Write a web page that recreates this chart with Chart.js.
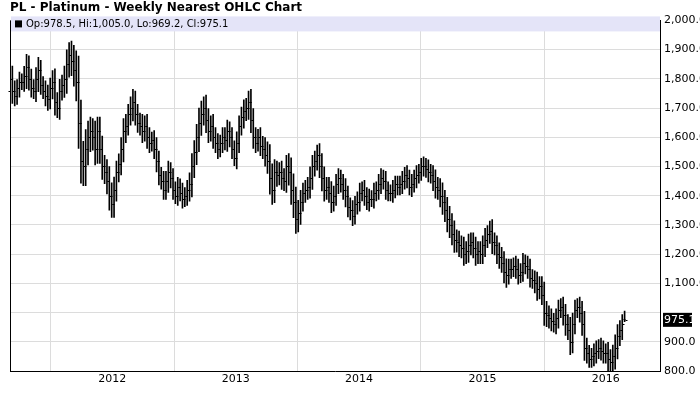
<!DOCTYPE html>
<html><head><meta charset="utf-8">
<script src="https://cdn.jsdelivr.net/npm/chart.js@4"></script>
<style>html,body{margin:0;padding:0;background:#fff}#w{width:700px;height:411px}</style>
</head><body><div id="w"><canvas id="c"></canvas></div>
<script>
const firstWeek = '2011-03-04';
const closes = [
1800,1760,1740,1770, 1790,1790,1810,1840,1800, 1770,1760,1800,1830, 1780,1760,1740,1730, 1770,1790,1720,1700,1760, 1780,1800,1850,1880, 1860,1830,1790,1650,1520, 1500,1560,1600,1620, 1600,1560,1620,1560, 1500,1480,1450,1400,1370,
1420,1480,1510,1560, 1620,1640,1680,1700, 1720,1680,1650,1640,1620, 1640,1600,1580,1590, 1560,1520,1470,1450, 1420,1450,1480,1460, 1420,1400,1430,1410,1390, 1400,1420,1440,1500,1550, 1600,1650,1680,1700, 1660,1620,1640,1600,1580, 1560,1580,1600,1590, 1620,1600,1560,1530,
1580,1640,1670,1690, 1700,1720,1660,1600, 1580,1600,1570,1560,1540, 1520,1460,1420,1480, 1470,1480,1460,1450,1500, 1480,1420,1380,1320, 1340,1380,1410,1420, 1430,1460,1500,1520,1540, 1500,1460,1420,1430, 1410,1380,1400,1440, 1460,1440,1420,1400, 1360,1350,1330,1370,1380,
1410,1420,1400,1380,1390, 1390,1410,1420,1440, 1460,1450,1420,1410, 1410,1420,1440,1430, 1440,1450,1470,1460, 1430,1440,1460,1470,1480, 1500,1500,1490,1480, 1470,1450,1430,1420, 1400,1380,1350,1320, 1300,1270,1250,1240,1230, 1220,1200,1210,1230, 1240,1220,1200,1210,1200,
1230,1250,1270,1280, 1240,1230,1200,1190, 1170,1140,1130,1150, 1150,1160,1150,1130, 1140,1170,1160,1150,1120, 1110,1100,1080,1090, 1060,1000,990,980,970, 960,980,1010,1020, 990,960,940,900, 960,1010,1020,1000,960, 880,860,840,850, 860,870,880,870,860,
860,840,830,850,880, 920,940,960,975.1
];
const wicks = [
60,40,30,25,30, 25,30,40,35, 30,25,35,40, 30,25,30,35, 30,35,40,30,35, 30,40,45,40, 45,50,60,80,70, 60,60,50,45, 40,50,45,45, 40,35,40,45,40,
40,35,30,35, 40,35,30,35, 40,35,30,30,35, 30,35,30,25, 30,35,30,25, 30,30,35,30, 30,25,30,25,30, 25,30,35,40,35, 40,45,40,35, 40,35,30,35,30, 30,25,30,30, 35,30,30,25,
35,30,30,35, 30,35,40,35, 30,25,30,30,35, 40,50,45,40, 35,30,35,30,35, 40,45,50,45, 40,35,30,30, 30,35,35,30,30, 35,40,35,30, 30,35,30,30, 30,25,30,35, 30,30,30,25,30,
30,25,30,25,30, 25,30,25,30, 30,25,30,25, 25,30,25,25, 25,30,25,30, 25,30,25,30,25, 25,30,25,30, 25,30,35,30, 35,40,35,40, 40,35,40,30,35, 30,35,30,35, 30,30,35,30,30,
30,35,25,30, 35,30,30,35, 30,35,40,30, 30,25,30,30, 25,30,25,30,30, 25,30,35,30, 30,40,35,30,30, 25,30,30,25, 30,35,30,40, 35,30,25,30,35, 40,30,25,25, 30,30,25,30,30,
30,35,30,35,40, 35,30,30,30
];
const yTicks = [800,900,1000,1100,1200,1300,1400,1500,1600,1700,1800,1900,2000];
const lastBar = {o:978.5, h:1005.0, l:969.2, c:975.1};

const start = new Date(firstWeek + 'T00:00:00Z');
function yearFrac(d){const y=d.getUTCFullYear();const s=Date.UTC(y,0,1),e=Date.UTC(y+1,0,1);return y+(d-s)/(e-s);}
const bars = closes.map((c,i)=>{
  const d = new Date(start.getTime()+i*7*86400000);
  const o = i===closes.length-1 ? lastBar.o : (i===0 ? 1760 : closes[i-1]);
  const w = wicks[i] ?? 30;
  let h = Math.max(o,c)+w*1.1, l = Math.min(o,c)-w*1.1;
  if(i===closes.length-1){h=lastBar.h;l=lastBar.l;}
  return {x:yearFrac(d), y:[l,h], o, c};
});
const fmt = v => v.toLocaleString('en-US',{minimumFractionDigits:1,maximumFractionDigits:1});

const ohlcPlugin = {
  id:'ohlc',
  afterDatasetsDraw(chart){
    const ctx=chart.ctx, ys=chart.scales.y, meta=chart.getDatasetMeta(0), a=chart.chartArea;
    ctx.save(); ctx.strokeStyle='#000'; ctx.lineWidth=1;
    meta.data.forEach((el,i)=>{
      const b=bars[i], x=Math.round(el.x)+0.5;
      ctx.beginPath();
      ctx.moveTo(x-2,Math.round(ys.getPixelForValue(b.o))+0.5); ctx.lineTo(x,Math.round(ys.getPixelForValue(b.o))+0.5);
      ctx.moveTo(x,Math.round(ys.getPixelForValue(b.c))+0.5); ctx.lineTo(x+2,Math.round(ys.getPixelForValue(b.c))+0.5);
      ctx.stroke();
    });
    ctx.beginPath(); ctx.moveTo(a.left+0.5,a.top); ctx.lineTo(a.left+0.5,a.bottom); ctx.stroke();
    ctx.fillStyle='#e4e4f8'; ctx.fillRect(a.left+1,a.top-4,a.right-a.left-1,15);
    ctx.fillStyle='#000'; ctx.fillRect(a.left+5,a.top,7,7);
    ctx.font='10px "DejaVu Sans", Verdana, sans-serif'; ctx.textBaseline='middle';
    ctx.fillText('Op:'+fmt(lastBar.o)+', Hi:'+fmt(lastBar.h)+', Lo:'+fmt(lastBar.l)+', Cl:'+fmt(lastBar.c), a.left+16, a.top+4);
    const py=ys.getPixelForValue(lastBar.c);
    ctx.fillStyle='#fff'; ctx.fillRect(a.right+2,py-14,40,20);
    ctx.fillStyle='#000'; ctx.fillRect(a.right+3,py-7,29,14);
    ctx.fillStyle='#fff'; ctx.font='11px "DejaVu Sans", Verdana, sans-serif';
    ctx.fillText(lastBar.c.toFixed(1), a.right+4, py);
    ctx.restore();
  }
};

new Chart(document.getElementById('c'),{
  type:'bar',
  data:{datasets:[{data:bars.map(b=>({x:b.x,y:b.y})),backgroundColor:'#000',borderWidth:0,barThickness:1,grouped:false}]},
  options:{
    responsive:true, maintainAspectRatio:false, animation:false,
    layout:{padding:{left:10,right:0,top:0,bottom:0}},
    plugins:{legend:{display:false},tooltip:{enabled:false},
      title:{display:true,text:'PL - Platinum - Weekly Nearest OHLC Chart',align:'start',color:'#000',
        font:{family:'"DejaVu Sans", Verdana, sans-serif',size:12,weight:'bold'},padding:{top:1,bottom:5}}},
    scales:{
      x:{type:'linear',min:2011.17,max:2016.44,offset:false,
        afterBuildTicks(s){s.ticks=[2012,2013,2014,2015,2016].map(v=>({value:v}));},
        afterFit(s){s.height=40;},
        ticks:{callback:v=>String(v),color:'#000',font:{family:'"DejaVu Sans", Verdana, sans-serif',size:11},maxRotation:0,padding:2},
        grid:{color:'#dcdcdc',drawTicks:false},border:{color:'#000'}},
      y:{position:'right',min:800,max:2000,
        afterBuildTicks(s){s.ticks=yTicks.map(v=>({value:v}));},
        afterFit(s){s.width=40;},
        ticks:{callback:v=>fmt(v),color:'#000',font:{family:'"DejaVu Sans", Verdana, sans-serif',size:11},padding:4},
        grid:{color:'#dcdcdc',drawTicks:false},border:{color:'#000'}}
    }
  },
  plugins:[ohlcPlugin]
});
</script></body></html>
